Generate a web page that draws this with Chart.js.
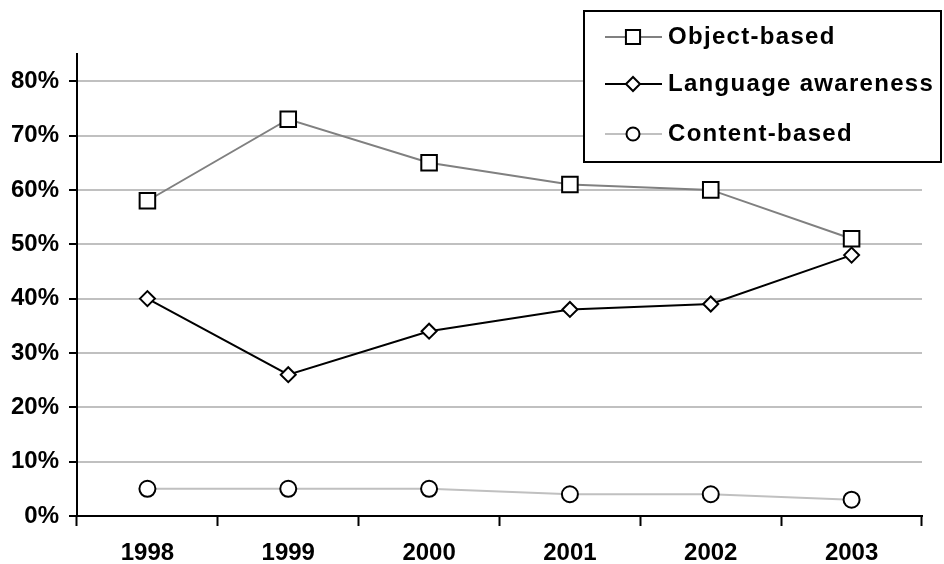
<!DOCTYPE html>
<html>
<head>
<meta charset="utf-8">
<script src="https://cdn.jsdelivr.net/npm/chart.js@4/dist/chart.umd.min.js"></script>
<style>
  html, body { margin: 0; padding: 0; background: #fff; }
  #wrap { position: relative; width: 944px; height: 564px; }
</style>
</head>
<body>
<div id="wrap"><canvas id="lineChart"></canvas></div>
<script>
const years = ['1998', '1999', '2000', '2001', '2002', '2003'];
const objectBased = [58, 73, 65, 61, 60, 51];
const languageAwareness = [40, 26, 34, 38, 39, 48];
const contentBased = [5, 5, 5, 4, 4, 3];
const yTicks = [0, 10, 20, 30, 40, 50, 60, 70, 80];

const FONT = '"Liberation Sans", Arial, sans-serif';

// legend box drawn on top of the plot, like the original
const boxLegend = {
    id: 'boxLegend',
    afterDraw(chart) {
        const ctx = chart.ctx;
        const box = { x: 584, y: 11, w: 357, h: 151 };
        ctx.save();
        ctx.fillStyle = '#fff';
        ctx.fillRect(box.x, box.y, box.w, box.h);
        ctx.strokeStyle = '#000';
        ctx.lineWidth = 2;
        ctx.strokeRect(box.x, box.y, box.w, box.h);

        const rows = [37, 84, 134];
        chart.data.datasets.forEach((ds, i) => {
            const y = rows[i];
            ctx.strokeStyle = ds.borderColor;
            ctx.lineWidth = 2;
            ctx.beginPath();
            ctx.moveTo(605, y);
            ctx.lineTo(662, y);
            ctx.stroke();
            ctx.fillStyle = '#fff';
            ctx.strokeStyle = '#000';
            ctx.lineWidth = 2;
            Chart.helpers.drawPoint(ctx, {
                pointStyle: ds.pointStyle,
                radius: ds.legendRadius,
                rotation: 0,
                borderWidth: 2
            }, 633, y);
            ctx.fillStyle = '#000';
            ctx.font = 'bold 24px ' + FONT;
            if ('letterSpacing' in ctx) ctx.letterSpacing = '1.3px';
            ctx.textBaseline = 'middle';
            ctx.textAlign = 'left';
            ctx.fillText(ds.label, 668, y);
            if ('letterSpacing' in ctx) ctx.letterSpacing = '0px';
        });
        ctx.restore();
    }
};

const pointStyleFor = (color, style, radius, legendRadius) => ({
    borderColor: color,
    borderWidth: 2,
    pointStyle: style,
    pointRadius: radius,
    pointHoverRadius: radius,
    pointBorderColor: '#000',
    pointBackgroundColor: '#fff',
    pointBorderWidth: 2,
    legendRadius: legendRadius,
    tension: 0,
    fill: false
});

new Chart(document.getElementById('lineChart'), {
    type: 'line',
    data: {
        labels: years,
        datasets: [
            Object.assign({ label: 'Object-based', data: objectBased }, pointStyleFor('#808080', 'rect', 11, 10)),
            Object.assign({ label: 'Language awareness', data: languageAwareness }, pointStyleFor('#000000', 'rectRot', 7.5, 7)),
            Object.assign({ label: 'Content-based', data: contentBased }, pointStyleFor('#c0c0c0', 'circle', 8, 6.5))
        ]
    },
    options: {
        responsive: true,
        maintainAspectRatio: false,
        animation: false,
        layout: { padding: { top: 54, right: 22, left: 0, bottom: 0 } },
        plugins: {
            legend: { display: false },
            tooltip: { enabled: false }
        },
        scales: {
            x: {
                offset: true,
                grid: {
                    offset: true,
                    drawOnChartArea: false,
                    drawTicks: true,
                    tickLength: 10,
                    tickColor: '#000',
                    tickWidth: 2
                },
                border: { color: '#000', width: 2 },
                ticks: {
                    color: '#000',
                    padding: 13,
                    maxRotation: 0,
                    font: { family: FONT, size: 24, weight: 'bold' }
                },
                afterFit(scale) { scale.height = 48; }
            },
            y: {
                min: 0,
                max: 85,
                grid: {
                    color: (c) => (yTicks.includes(c.tick.value) && c.tick.value !== 0) ? '#c0c0c0' : 'rgba(0,0,0,0)',
                    lineWidth: 2,
                    drawTicks: true,
                    tickLength: 8,
                    tickColor: '#000',
                    tickWidth: 2
                },
                border: { color: '#000', width: 2 },
                ticks: {
                    stepSize: 5,
                    color: '#000',
                    padding: 10,
                    font: { family: FONT, size: 24, weight: 'bold' },
                    callback: (v) => yTicks.includes(v) ? v + '%' : ''
                },
                afterFit(scale) { scale.width = 77; }
            }
        }
    },
    plugins: [boxLegend]
});
</script>
</body>
</html>
